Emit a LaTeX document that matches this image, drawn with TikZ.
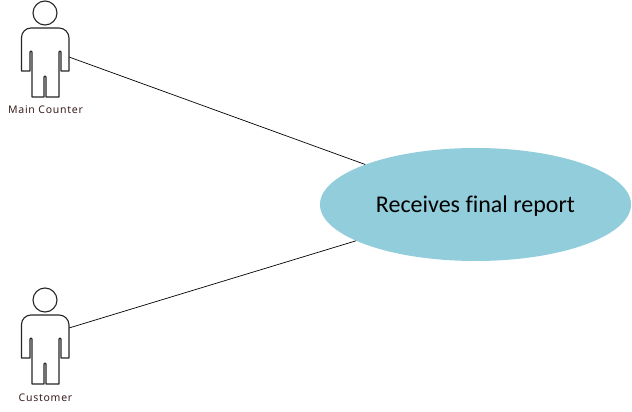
\documentclass[tikz,border=0pt]{standalone}
\usepackage{fontspec}
\setmainfont[Ligatures=NoCommon]{Carlito}
\newfontfamily\labelfont[LetterSpace=7]{Noto Sans}
\usetikzlibrary{shapes.geometric}
\definecolor{usecasefill}{HTML}{92CDDC}
\definecolor{labelbrown}{HTML}{3A1F1F}
\newcommand{\actorfigure}{%
  \draw (45,13) circle[radius=12];
  \draw (31,28) -- (59,28) arc[start angle=-90,end angle=0,radius=10] -- (69,71) -- (61,71) -- (61,52)
    arc[start angle=0,end angle=-180,radius=1] -- (59,97) -- (46,97) -- (46,77)
    arc[start angle=0,end angle=-180,radius=1] -- (44,97) -- (32,97) -- (32,52)
    arc[start angle=0,end angle=-180,radius=1] -- (30,71) -- (21.5,71) -- (21.5,37.5)
    arc[start angle=180,end angle=270,radius=9.5] -- cycle;
}
\tikzset{
  x=1pt,y=-1pt,
  actorline/.style={draw=black!85,line width=1.1pt,line join=round},
  connector/.style={draw=black,line width=0.7pt},
  usecase/.style={ellipse,fill=usecasefill,inner sep=0pt,minimum width=311pt,minimum height=113pt,font=\fontsize{24}{28}\selectfont},
  actorlabel/.style={text=labelbrown,inner sep=0pt,font=\labelfont\fontsize{10.5}{12}\selectfont},
}
\begin{document}
\begin{tikzpicture}
\useasboundingbox (0,0) rectangle (632,412);
\fill[white] (0,0) rectangle (632,412);
\coordinate (mainport) at (69,57);
\coordinate (custport) at (69,328);
\node[usecase] (report) at (475.5,204.5) {\raisebox{-8.2pt}[0pt][0pt]{Receives final report}};
\draw[connector] (mainport) -- (report);
\draw[connector] (custport) -- (report);
\begin{scope}[actorline]
\actorfigure
\end{scope}
\begin{scope}[actorline,yshift=-287pt]
\actorfigure
\end{scope}
\node[actorlabel] (mainlabel) at (45.5,110) {Main Counter};
\node[actorlabel] (custlabel) at (45.5,397.5) {Customer};
\end{tikzpicture}
\end{document}
